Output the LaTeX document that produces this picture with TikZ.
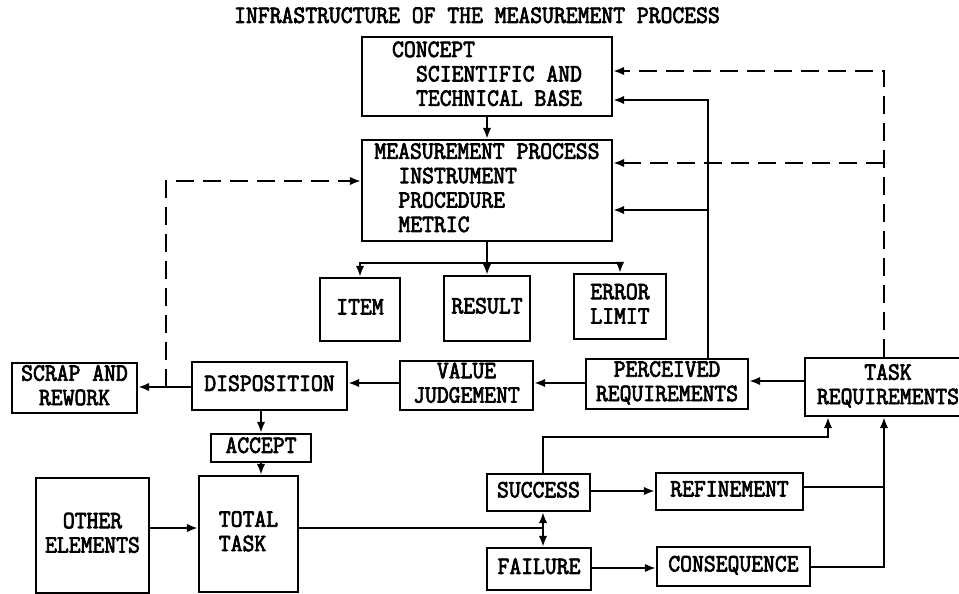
\documentclass[tikz,border=0pt]{standalone}
\usepackage{fontspec}
\usepackage{graphicx}
\newfontfamily\twfont{Latin Modern Mono}[FakeBold=3]
\usetikzlibrary{arrows.meta}
\newcommand\tw[1]{\scalebox{1}[1.08]{\begin{tabular}{@{}c@{}}#1\end{tabular}}}
\newcommand\twl[1]{\scalebox{1}[1.08]{\begin{tabular}{@{}l@{}}#1\end{tabular}}}
\begin{document}
\begin{tikzpicture}[x=1pt,y=-1pt,
  txt/.style={inner sep=0pt,font=\fontsize{23}{22.6}\selectfont\twfont},
  box/.style={txt,draw,line width=2.3pt},
  ln/.style={line width=2.1pt},
  arr/.style={ln,-{Latex[length=11pt,width=8.5pt]}},
  dln/.style={ln,dash pattern=on 18pt off 9pt},
  darr/.style={arr,dash pattern=on 18pt off 9pt}]
\useasboundingbox (0,0) rectangle (959,594);
% levels
\coordinate (y71) at (0,71);
\coordinate (y100) at (0,100);
\coordinate (y163) at (0,163);
\coordinate (y181) at (0,181);
\coordinate (y210) at (0,210);
\coordinate (y381) at (0,381);
\coordinate (y383) at (0,383);
\coordinate (y387) at (0,387);
\coordinate (y487) at (0,487);
\coordinate (y491) at (0,491);
\coordinate (y528) at (0,528);
\coordinate (y567) at (0,567);
\coordinate (y568) at (0,568);
\coordinate (vp) at (708,0);
\coordinate (vd) at (884,0);
\coordinate (vs) at (828,437);
\coordinate (sf) at (543,528);
\coordinate (sj) at (166,387);
\coordinate (br) at (487,263);
% title
\node[txt] (title) at (477,18) {\tw{INFRASTRUCTURE OF THE MEASUREMENT PROCESS}};
% boxes
\node[box,minimum width=250pt,minimum height=79pt] (concept) at (487,76.5)
  {\twl{CONCEPT\\\hspace*{24pt}SCIENTIFIC AND\\\hspace*{24pt}TECHNICAL BASE}};
\node[box,minimum width=250pt,minimum height=101pt] (mp) at (487,190.5)
  {\twl{MEASUREMENT PROCESS\\\hspace*{24pt}INSTRUMENT\\\hspace*{24pt}PROCEDURE\\\hspace*{24pt}METRIC}};
\node[box,minimum width=80pt,minimum height=63pt] (item) at (360,309.5) {\tw{ITEM}};
\node[box,minimum width=86pt,minimum height=65pt] (result) at (487,308.5) {\tw{RESULT}};
\node[box,minimum width=92pt,minimum height=65pt] (error) at (620,306.5) {\tw{ERROR\\LIMIT}};
\node[box,minimum width=125pt,minimum height=50pt] (scrap) at (74.5,388) {\tw{SCRAP AND\\REWORK}};
\node[box,minimum width=155pt,minimum height=48pt] (disp) at (269.5,386) {\tw{DISPOSITION}};
\node[box,minimum width=133pt,minimum height=49pt] (vj) at (466.5,385.5) {\tw{VALUE\\JUDGEMENT}};
\node[box,minimum width=162pt,minimum height=50pt] (perc) at (667,384) {\tw{PERCEIVED\\REQUIREMENTS}};
\node[box,minimum width=166pt,minimum height=58pt] (task) at (888,387) {\tw{TASK\\REQUIREMENTS}};
\node[box,minimum width=100pt,minimum height=28pt] (accept) at (261,448) {\tw{ACCEPT}};
\node[box,minimum width=99pt,minimum height=116pt] (total) at (248.5,534) {\twl{TOTAL\\TASK}};
\node[box,minimum width=113pt,minimum height=115pt] (other) at (92.5,535.5) {\tw{OTHER\\ELEMENTS}};
\node[box,minimum width=103pt,minimum height=37pt] (success) at (538.5,492.5) {\tw{SUCCESS}};
\node[box,minimum width=104pt,minimum height=42pt] (failure) at (539,569) {\tw{FAILURE}};
\node[box,minimum width=147pt,minimum height=37pt] (refine) at (729.5,491.5) {\tw{REFINEMENT}};
\node[box,minimum width=153pt,minimum height=39pt] (conseq) at (733.5,566.5) {\tw{CONSEQUENCE}};
% connectors
\draw[arr] (concept) -- (mp);
\draw[ln] (mp.south) -- (br);
\draw[arr] (br) -| (item);
\draw[arr] (br) -| (error);
\draw[arr] (br) -- (result.north);
\draw[arr] (perc.north -| vp) |- (concept.east |- y100);
\draw[arr] (vp |- y210) -- (mp.east |- y210);
\draw[darr] (task.north -| vd) |- (concept.east |- y71);
\draw[darr] (vd |- y163) -- (mp.east |- y163);
\draw[arr] (task.west |- y381) -- (perc.east |- y381);
\draw[arr] (perc.west |- y383) -- (vj.east |- y383);
\draw[arr] (vj.west |- y383) -- (disp.east |- y383);
\draw[arr] (disp.west |- y387) -- (scrap.east |- y387);
\draw[darr] (sj) |- (mp.west |- y181);
\draw[arr] (disp.south -| accept.north) -- (accept.north);
\draw[arr] (accept.south) -- (accept.south |- total.north);
\draw[arr] (other.east |- y528) -- (total.west |- y528);
\draw[ln] (total.east |- y528) -- (sf);
\draw[arr] (sf) -- (success.south -| sf);
\draw[arr] (sf) -- (failure.north -| sf);
\draw[arr] (success.north -| sf) |- (vs) -- (task.south -| vs);
\draw[arr] (success.east |- y491) -- (refine.west |- y491);
\draw[arr] (failure.east |- y568) -- (conseq.west |- y568);
\draw[ln] (refine.east |- y487) -- (vd |- y487);
\draw[arr] (conseq.east |- y567) -| (task.south -| vd);
\end{tikzpicture}
\end{document}
